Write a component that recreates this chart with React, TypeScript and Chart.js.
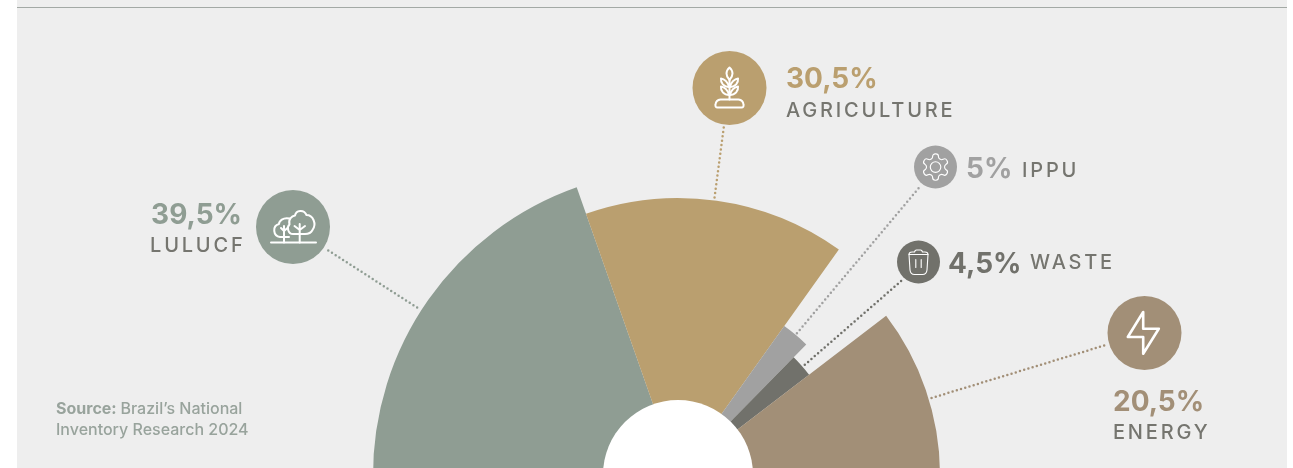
import React, { useEffect, useRef } from "react";
import { Chart, registerables } from "chart.js";

Chart.register(...registerables);

// Data
const categories = ["LULUCF", "AGRICULTURE", "IPPU", "WASTE", "ENERGY"];
const shares = [39.5, 30.5, 5, 4.5, 20.5];
const shareLabels = ["39,5%", "30,5%", "5%", "4,5%", "20,5%"];
const wedgeLengths = [305, 277, 183, 165, 262];
const colors = ["#8F9D93", "#BA9F6F", "#A1A1A1", "#71716B", "#A28F77"];

// Layout of the annotations (not data)
const SCALE_MAX = 475;
const HOLE = 75;
const leaderAngles = [-57.3, 7.5, 40, 49, 73.1];
const leaderFrom = [310, 280, 185, 168, 265];
const leaderTo = [416, 352, 378, 297, 449];
const badges = [
  { x: 293, y: 227, r: 37 },
  { x: 729.5, y: 88, r: 37 },
  { x: 935.5, y: 167, r: 21.5 },
  { x: 918.5, y: 262, r: 21.5 },
  { x: 1144.5, y: 333, r: 37 },
];
const valueText = [
  { x: 242, y: 224, align: "right" },
  { x: 786, y: 88, align: "left" },
  { x: 966, y: 178, align: "left" },
  { x: 948, y: 273, align: "left" },
  { x: 1113, y: 411, align: "left" },
];
const nameText = [
  { x: 245.5, y: 252, align: "right" },
  { x: 786, y: 117, align: "left" },
  { x: 1022, y: 177, align: "left" },
  { x: 1030, y: 269, align: "left" },
  { x: 1113, y: 439, align: "left" },
];

const INK = "#75756F";
const SOURCE = "#98A39C";

const iconPaths: { d: string[]; scale: number; dx: number; dy: number; lw: number }[] = [
  {
    d: [
      "M-22 15.5H23",
      "M6.7 -3V15.5M6.7 3L1.5 -1M6.7 3L12 -1",
      "M0 7C-5 7 -6.5 0 -3.5 -2.5C-5 -8 -1 -11 2 -11.5C3 -17 11 -18 13.5 -12C20 -12 24 -3 19.5 3C18 6 15 7 12 7Z",
      "M-3.5 -8.5C-10 -10 -14 -6 -14 -3C-21 -1 -20 9 -13 10H-4",
      "M-9 -1V15.5M-9 4L-12 1M-9 4L-5.5 1",
    ],
    scale: 1, dx: 0, dy: 0, lw: 2,
  },
  {
    d: [
      "M-12 20.5H12Q14.5 20.5 14 17.5Q13.5 13 9 12.5H-9Q-13.5 13 -14 17.5Q-14.5 20.5 -12 20.5Z",
      "M0 -7V12.5",
      "M0 -19.5C4 -16 4 -11 0 -7C-4 -11 -4 -16 0 -19.5Z",
      "M0 0C-2 -5 -5 -8 -8.5 -8.5C-9 -4 -6 0 0 0Z",
      "M0 0C2 -5 5 -8 8.5 -8.5C9 -4 6 0 0 0Z",
      "M0 8C-2 3 -5 0 -8.5 -0.5C-9 4 -6 8 0 8Z",
      "M0 8C2 3 5 0 8.5 -0.5C9 4 6 8 0 8Z",
    ],
    scale: 1, dx: 0, dy: -1, lw: 2,
  },
  {
    d: [
      "M12.22 2h-.44a2 2 0 0 0-2 2v.18a2 2 0 0 1-1 1.73l-.43.25a2 2 0 0 1-2 0l-.15-.08a2 2 0 0 0-2.73.73l-.22.38a2 2 0 0 0 .73 2.73l.15.1a2 2 0 0 1 1 1.72v.51a2 2 0 0 1-1 1.74l-.15.09a2 2 0 0 0-.73 2.73l.22.38a2 2 0 0 0 2.73.73l.15-.08a2 2 0 0 1 2 0l.43.25a2 2 0 0 1 1 1.73V20a2 2 0 0 0 2 2h.44a2 2 0 0 0 2-2v-.18a2 2 0 0 1 1-1.73l.43-.25a2 2 0 0 1 2 0l.15.08a2 2 0 0 0 2.73-.73l.22-.39a2 2 0 0 0-.73-2.73l-.15-.08a2 2 0 0 1-1-1.74v-.5a2 2 0 0 1 1-1.74l.15-.09a2 2 0 0 0 .73-2.73l-.22-.38a2 2 0 0 0-2.73-.73l-.15.08a2 2 0 0 1-2 0l-.43-.25a2 2 0 0 1-1-1.73V4a2 2 0 0 0-2-2z",
      "M16 12a4 4 0 1 1-8 0a4 4 0 1 1 8 0z",
    ],
    scale: 1.32, dx: -15.8, dy: -15.8, lw: 0.85,
  },
  {
    d: [
      "M-9.5 -7.5H9.5L8.5 8Q8 12.5 4 12.5H-4Q-8 12.5 -8.5 8Z",
      "M-9.5 -7.5Q-9.5 -10 -6.5 -10H-4Q-3.5 -12 -2 -12H2Q3.5 -12 4 -10H6.5Q9.5 -10 9.5 -7.5",
      "M-2.7 -2.5V5.5M2.7 -2.5V5.5",
    ],
    scale: 1, dx: 0, dy: 0, lw: 1.1,
  },
  {
    d: ["M-1.3 -21L-16.7 4H-1.3V20.7L14.3 -4.3H-1.3Z"],
    scale: 1, dx: 0, dy: 0, lw: 2.6,
  },
];

const decorations = {
  id: "decorations",
  beforeDraw(chart: any) {
    const { ctx } = chart;
    ctx.save();
    ctx.fillStyle = "#EEEEEE";
    ctx.fillRect(17, 0, 1270, chart.height);
    ctx.fillStyle = "#A3A9A5";
    ctx.fillRect(17, 7, 1270, 1);
    ctx.restore();
  },
  afterDraw(chart: any) {
    const { ctx } = chart;
    const scale = chart.scales.r;
    const cx = scale.xCenter;
    const cy = scale.yCenter;
    ctx.save();

    ctx.fillStyle = "#FFFFFF";
    ctx.beginPath();
    ctx.arc(cx, cy, scale.getDistanceFromCenterForValue(HOLE), 0, Math.PI * 2);
    ctx.fill();

    categories.forEach((name, i) => {
      const a = (leaderAngles[i] * Math.PI) / 180;
      ctx.save();
      ctx.strokeStyle = colors[i];
      ctx.lineWidth = 2.5;
      ctx.lineCap = "round";
      ctx.setLineDash([0, 4.4]);
      ctx.beginPath();
      ctx.moveTo(cx + Math.sin(a) * leaderFrom[i], cy - Math.cos(a) * leaderFrom[i]);
      ctx.lineTo(cx + Math.sin(a) * leaderTo[i], cy - Math.cos(a) * leaderTo[i]);
      ctx.stroke();
      ctx.restore();

      const b = badges[i];
      ctx.fillStyle = colors[i];
      ctx.beginPath();
      ctx.arc(b.x, b.y, b.r, 0, Math.PI * 2);
      ctx.fill();

      const icon = iconPaths[i];
      ctx.save();
      ctx.translate(b.x + icon.dx, b.y + icon.dy);
      ctx.scale(icon.scale, icon.scale);
      ctx.strokeStyle = "#FFFFFF";
      ctx.lineWidth = icon.lw;
      ctx.lineJoin = "round";
      ctx.lineCap = "round";
      icon.d.forEach((d) => ctx.stroke(new Path2D(d)));
      ctx.restore();

      ctx.textBaseline = "alphabetic";
      ctx.fillStyle = colors[i];
      ctx.font = "700 28px Inter";
      ctx.letterSpacing = "0px";
      ctx.textAlign = valueText[i].align;
      ctx.fillText(shareLabels[i], valueText[i].x, valueText[i].y);

      ctx.fillStyle = INK;
      ctx.font = "500 20px Inter";
      ctx.letterSpacing = "2.8px";
      ctx.textAlign = nameText[i].align;
      ctx.fillText(name, nameText[i].x, nameText[i].y);
    });

    ctx.letterSpacing = "0px";
    ctx.textAlign = "left";
    ctx.fillStyle = SOURCE;
    ctx.font = "700 16px Inter";
    const prefix = "Source:";
    ctx.fillText(prefix, 56, 414);
    const w = ctx.measureText(prefix + " ").width;
    ctx.font = "500 16px Inter";
    ctx.fillText("Brazil’s National", 56 + w, 414);
    ctx.fillText("Inventory Research 2024", 56, 435);
    ctx.restore();
  },
};

export default function App() {
  const ref = useRef<HTMLCanvasElement>(null);
  useEffect(() => {
    const chart = new Chart(ref.current!, {
      type: "polarArea",
      data: {
        labels: categories,
        datasets: [
          {
            data: wedgeLengths,
            backgroundColor: colors,
            borderWidth: 0,
            angle: (c: any) => shares[c.dataIndex] * 1.8,
          } as any,
        ],
      },
      options: {
        responsive: false,
        animation: false,
        layout: { padding: { left: 63, right: 0, top: 0, bottom: 0 } },
        plugins: { legend: { display: false }, tooltip: { enabled: false } },
        scales: {
          r: {
            display: false,
            min: 0,
            max: SCALE_MAX,
            startAngle: -90.5,
          },
        },
      },
      plugins: [decorations],
    } as any);
    return () => chart.destroy();
  }, []);
  return (
    <div style={{ position: "absolute", left: 0, top: 0, width: 1293, height: 468, overflow: "hidden", background: "#FFFFFF" }}>
      <canvas ref={ref} width={1293} height={950} style={{ display: "block" }} />
    </div>
  );
}
